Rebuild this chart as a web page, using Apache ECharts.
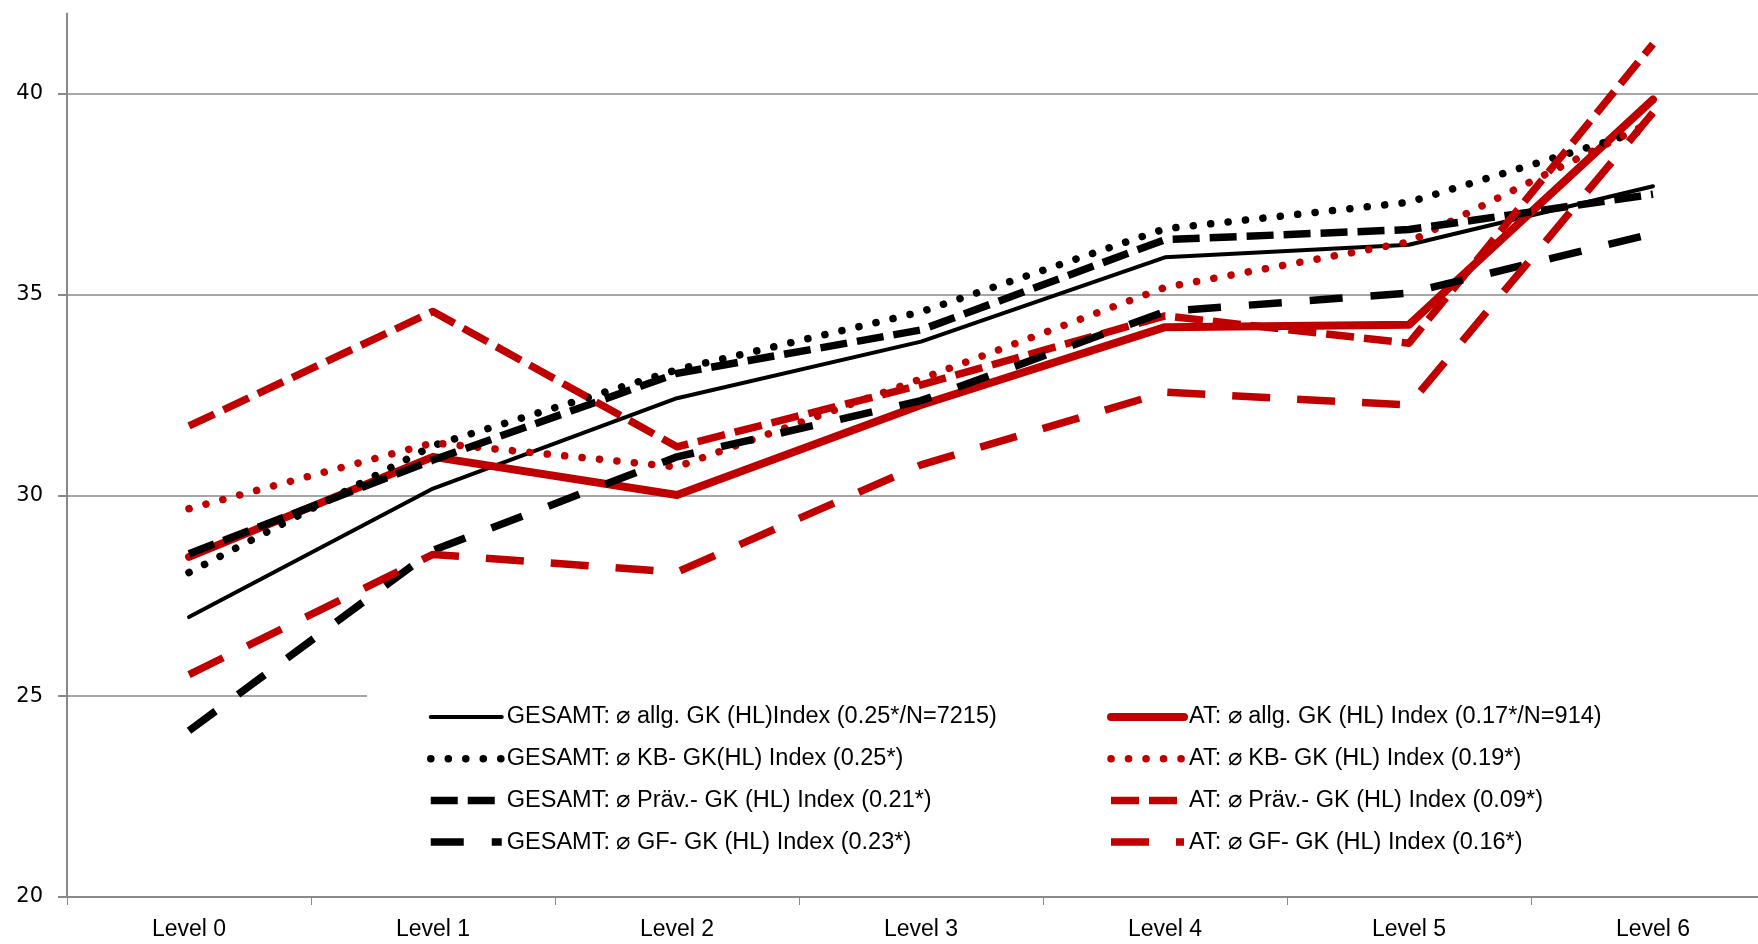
<!DOCTYPE html>
<html>
<head>
<meta charset="utf-8">
<script src="https://cdn.jsdelivr.net/npm/echarts@6/dist/echarts.min.js"></script>
<style>
  html, body { margin: 0; padding: 0; background: #fff; }
  #chart { width: 1758px; height: 944px; }
</style>
</head>
<body>
<div id="chart"></div>
<script>
const levels = ['Level 0', 'Level 1', 'Level 2', 'Level 3', 'Level 4', 'Level 5', 'Level 6']

// GESAMT
const gesamtAllg = [26.97, 30.17, 32.42, 33.83, 35.93, 36.24, 37.70]
const gesamtKB = [28.08, 31.24, 33.13, 34.57, 36.64, 37.30, 39.16]
const gesamtPraev = [28.55, 30.88, 33.04, 34.12, 36.37, 36.62, 37.50]
const gesamtGF = [24.14, 28.63, 30.96, 32.36, 34.58, 35.04, 36.52]
// AT
const atAllg = [28.47, 30.96, 30.01, 32.25, 34.19, 34.25, 39.86]
const atKB = [29.67, 31.31, 30.71, 32.90, 35.18, 36.31, 39.32]
const atPraev = [31.73, 34.58, 31.21, 32.75, 34.47, 33.79, 41.24]
const atGF = [25.54, 28.53, 28.09, 30.76, 32.57, 32.25, 39.53]

const namesGesamt = [
  'GESAMT: ⌀ allg. GK (HL)Index (0.25*/N=7215)',
  'GESAMT: ⌀ KB- GK(HL) Index (0.25*)',
  'GESAMT: ⌀ Präv.- GK (HL) Index (0.21*)',
  'GESAMT: ⌀ GF- GK (HL) Index (0.23*)'
]
const namesAT = [
  'AT: ⌀ allg. GK (HL) Index (0.17*/N=914)',
  'AT: ⌀ KB- GK (HL) Index (0.19*)',
  'AT: ⌀ Präv.- GK (HL) Index (0.09*)',
  'AT: ⌀ GF- GK (HL) Index (0.16*)'
]

const BLACK = '#000000'
const RED = '#c00000'

// line styles
const styleAllgG = { width: 4, type: 'solid', cap: 'round' }
const styleAllgA = { width: 8, type: 'solid', cap: 'round' }
const styleKB = { width: 7.5, type: [0.1, 17.4], cap: 'round' }
const stylePraevG = { width: 7.5, type: [27, 10], cap: 'butt' }
const stylePraevA = { width: 7.5, type: [28, 10], cap: 'butt' }
const styleGfG = { width: 7.5, type: [33, 28], cap: 'butt' }
const styleGfA = { width: 7.5, type: [38, 27], cap: 'butt' }

function line(name, data, color, st) {
  return {
    name: name,
    type: 'line',
    data: data,
    symbol: 'none',
    silent: true,
    animation: false,
    lineStyle: { color: color, width: st.width, type: st.type, cap: st.cap, join: 'round' },
    itemStyle: { color: color }
  }
}

function legendItem(name, color, st) {
  return {
    name: name,
    itemStyle: { opacity: 0 },
    lineStyle: { color: color, width: st.width, type: st.type, cap: st.cap }
  }
}

const legendText = { fontFamily: 'Liberation Sans', fontSize: 23.5, color: '#000', lineHeight: 26 }

const chart = echarts.init(document.getElementById('chart'), null, { renderer: 'canvas' })
chart.setOption({
  animation: false,
  backgroundColor: '#fff',
  grid: { left: 67, top: 13.5, width: 1708, bottom: 47, containLabel: false, outerBoundsMode: 'none' },
  legend: [
    {
      data: [
        legendItem(namesGesamt[0], BLACK, styleAllgG),
        legendItem(namesGesamt[1], BLACK, styleKB),
        legendItem(namesGesamt[2], BLACK, stylePraevG),
        legendItem(namesGesamt[3], BLACK, styleGfG)
      ],
      orient: 'vertical',
      left: 367,
      top: 684,
      itemWidth: 71,
      itemHeight: 14,
      itemGap: 15.7,
      padding: [20, 60, 30, 60],
      backgroundColor: '#fff',
      selectedMode: false,
      textStyle: legendText
    },
    {
      data: [
        legendItem(namesAT[0], RED, styleAllgA),
        legendItem(namesAT[1], RED, styleKB),
        legendItem(namesAT[2], RED, stylePraevA),
        legendItem(namesAT[3], RED, styleGfA)
      ],
      orient: 'vertical',
      left: 1004,
      top: 684,
      z: 5,
      itemWidth: 73,
      itemHeight: 14,
      itemGap: 15.7,
      padding: [20, 300, 30, 103],
      backgroundColor: '#fff',
      selectedMode: false,
      textStyle: legendText
    }
  ],
  xAxis: {
    type: 'category',
    data: levels,
    boundaryGap: true,
    axisLine: { lineStyle: { color: '#898989', width: 2 } },
    axisTick: { show: true, length: 8, lineStyle: { color: '#898989', width: 1 } },
    axisLabel: { fontFamily: 'Liberation Sans', fontSize: 23, color: '#000', margin: 21 },
    splitLine: { show: false }
  },
  yAxis: {
    type: 'value',
    min: 20,
    max: 42,
    interval: 5,
    axisLine: { show: true, lineStyle: { color: '#898989', width: 2 } },
    axisTick: { show: true, length: 9, lineStyle: { color: '#898989', width: 2 } },
    axisLabel: { fontFamily: 'DejaVu Sans', fontSize: 21, color: '#000', margin: 24, showMaxLabel: false },
    splitLine: {
      show: true,
      lineStyle: { color: ['#a6a6a6', '#a6a6a6', '#a6a6a6', '#a6a6a6', '#a6a6a6', 'rgba(0,0,0,0)'], width: 2 }
    }
  },
  series: [
    line(namesGesamt[0], gesamtAllg, BLACK, styleAllgG),
    line(namesAT[0], atAllg, RED, styleAllgA),
    line(namesGesamt[1], gesamtKB, BLACK, styleKB),
    line(namesAT[1], atKB, RED, styleKB),
    line(namesGesamt[2], gesamtPraev, BLACK, stylePraevG),
    line(namesAT[2], atPraev, RED, stylePraevA),
    line(namesGesamt[3], gesamtGF, BLACK, styleGfG),
    line(namesAT[3], atGF, RED, styleGfA)
  ]
})
</script>
</body>
</html>
